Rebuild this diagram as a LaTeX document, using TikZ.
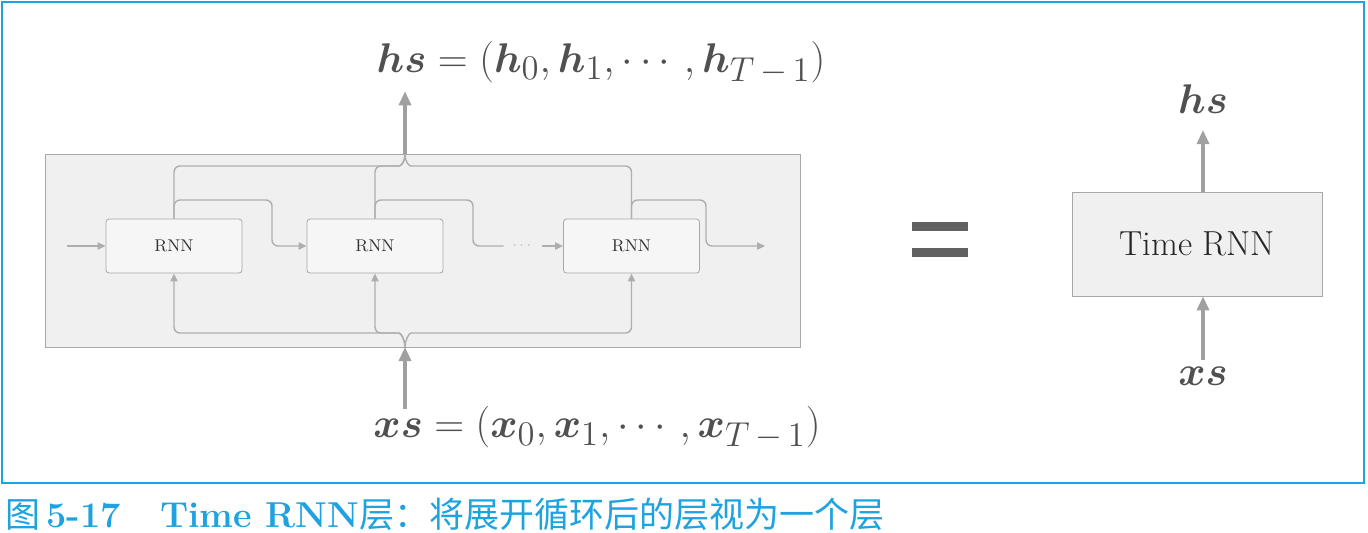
\documentclass[tikz,border=0pt]{standalone}
\usepackage{amsmath}
\usepackage{graphicx}
\usepackage{fontspec}
\usepackage[HTML]{xcolor}
\usepackage{tikz}
\usetikzlibrary{positioning, arrows.meta, calc}
\usepackage{bm}
\newfontfamily\cjk{Noto Sans CJK SC}
\newcommand{\tsub}[1]{_{\scalebox{1.2}{$\scriptstyle #1$}}}

\definecolor{capblue}{HTML}{1FA3E0}
\definecolor{boxgray}{HTML}{A8A8A8}
\definecolor{linegray}{HTML}{AEAEAE}
\definecolor{arrowgray}{HTML}{A0A0A0}
\definecolor{bgfill}{HTML}{F0F0F0}
\definecolor{rnnfill}{HTML}{F6F6F6}
\definecolor{labeltext}{HTML}{505050}
\definecolor{eqgray}{HTML}{616161}

\begin{document}
\begin{tikzpicture}[x=0.5pt, y=-0.5pt,
  rnn/.style={draw=boxgray, fill=rnnfill, rounded corners=1.5pt, minimum width=68pt, minimum height=27pt, inner sep=0pt, font=\fontsize{8.5}{10}\selectfont, text=black!80},
  link/.style={draw=linegray, line width=0.7pt, rounded corners=3pt},
  tip/.style={-{Triangle[length=4pt,width=3.6pt]}},
  bigarrow/.style={draw=arrowgray, line width=1.6pt, -{Triangle[length=7pt,width=6pt]}},
  lbl/.style={text=labeltext, font=\fontsize{21}{25}\selectfont}]
\useasboundingbox (0,0) rectangle (1368,532);
\draw[capblue, line width=0.8pt] (2,2) rectangle (1364,483);

% unrolled layers
\node[draw=boxgray, fill=bgfill, minimum width=377.5pt, minimum height=96.5pt, inner sep=0pt] (unroll) at (422.5,250.5) {};
\node[rnn] (r1) at (174,246) {RNN};
\node[rnn] (r2) at (375,246) {RNN};
\node[rnn] (r3) at (631.5,246) {RNN};
\node[text=linegray, minimum width=19pt, inner sep=0pt, font=\fontsize{6.5}{8}\selectfont] (dots) at (523,246) {$\cdots$};

% hidden state passed to the right
\coordinate (in0) at (67,246);
\coordinate (out) at (765,246);
\draw[link,tip] (in0) -- (r1.west);
\draw[link,tip] (r1.north) |- (272,200) |- (r2.west);
\draw[link] (r2.north) |- (473,200) |- (dots.west);
\draw[link,tip] (dots.east) -- (r3.west);
\draw[link,tip] (r3.north) |- (706,200) |- (out);

% outputs gathered into hs
\coordinate (top) at (405,154);
\draw[link] (r1.north) |- (393,166) .. controls (401,166) and (405,162) .. (top);
\draw[link] (r2.north) |- (393,166) .. controls (401,166) and (405,162) .. (top);
\draw[link] (r3.north) |- (417,166) .. controls (409,166) and (405,162) .. (top);
\node[lbl, anchor=base] (hsall) at (601,72) {$\bm{hs} = (\bm{h}\tsub{0}, \bm{h}\tsub{1}, \cdots, \bm{h}\tsub{T\,-\,1})$};
\draw[bigarrow] (top) -- (top |- hsall.south);

% inputs split from xs
\coordinate (bot) at (405,347);
\draw[link,tip] (bot) .. controls (405,340) and (401,333) .. (393,333) -| (r1.south);
\draw[link,tip] (bot) .. controls (405,340) and (401,333) .. (393,333) -| (r2.south);
\draw[link,tip] (bot) .. controls (405,340) and (409,333) .. (417,333) -| (r3.south);
\node[lbl, anchor=base] (xsall) at (597,437) {$\bm{xs} = (\bm{x}\tsub{0}, \bm{x}\tsub{1}, \cdots, \bm{x}\tsub{T\,-\,1})$};
\draw[bigarrow] ([yshift=-5pt]xsall.north -| bot) -- (bot);

% equals sign
\fill[eqgray] (912,222) rectangle (968,231);
\fill[eqgray] (912,248) rectangle (968,257);

% folded layer
\node[draw=boxgray, fill=bgfill, minimum width=125pt, minimum height=52pt, font=\fontsize{17.4}{20}\selectfont, text=black!85] (trnn) at (1197,244) {Time RNN};
\node[lbl, anchor=base] (hs) at (1203,113) {$\bm{hs}$};
\node[lbl, anchor=base] (xs) at (1203,385) {$\bm{xs}$};
\draw[bigarrow] (trnn.north -| hs) -- ([yshift=-5pt]hs.south);
\draw[bigarrow] (xs.north) -- (trnn.south -| xs);

% caption
\node[anchor=base west, text=capblue, inner sep=0pt] (cap) at (5,527)
  {{\cjk\fontsize{17.5}{20}\selectfont 图}\hspace{3pt}{\bfseries\fontsize{18}{20}\selectfont 5-17\hspace{1.1em}Time RNN}{\cjk\fontsize{17.5}{20}\selectfont 层：将展开循环后的层视为一个层}};
\end{tikzpicture}
\end{document}
